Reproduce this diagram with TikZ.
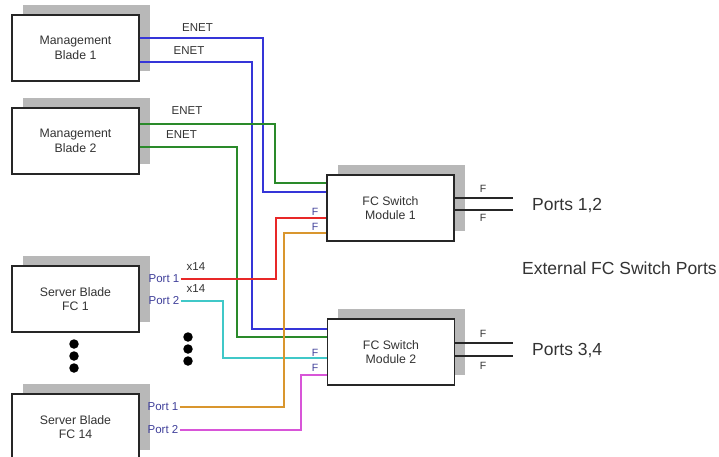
\documentclass[tikz,border=0pt]{standalone}
\usepackage{fontspec}
\setmainfont{Liberation Sans}
\usetikzlibrary{shadows}
\definecolor{cblue}{HTML}{3535D8}
\definecolor{cgreen}{HTML}{2A8A2A}
\definecolor{cred}{HTML}{E82828}
\definecolor{ccyan}{HTML}{40C8C8}
\definecolor{corange}{HTML}{D9962E}
\definecolor{cmag}{HTML}{D855D8}
\definecolor{cport}{HTML}{40409A}
\definecolor{ctext}{HTML}{333333}
\begin{document}
\begin{tikzpicture}[x=1pt,y=-1pt,
  blade/.style={draw=black!85, line width=1.4pt, fill=white, minimum width=127pt,
    minimum height=66pt, align=center, inner sep=0pt,
    font=\fontsize{12.3}{14.5}\selectfont, text=ctext,
    drop shadow={shadow xshift=10.5pt, shadow yshift=10pt, fill=black!28, opacity=1}},
  lbl/.style={font=\fontsize{11.5}{14}\selectfont, text=ctext, inner sep=1pt},
  portlbl/.style={font=\fontsize{11.5}{14}\selectfont, text=cport, inner sep=1pt},
  flbl/.style={font=\fontsize{10.5}{12}\selectfont, inner sep=0pt},
  biglbl/.style={font=\fontsize{17.5}{20}\selectfont, text=ctext, inner sep=0pt, anchor=west},
  wire/.style={line width=1.5pt},
  ext/.style={line width=1.3pt, draw=black!85},
  dot/.style={circle, fill=black, inner sep=0pt, minimum size=9.5pt}
]
\useasboundingbox (0,0) rectangle (719,456);

% boxes
\node[blade] (mb1) at (75.5,48) {Management\\Blade 1};
\node[blade] (mb2) at (75.5,141) {Management\\Blade 2};
\node[blade] (sb1) at (75.5,299) {Server Blade\\FC 1};
\node[blade] (sb14) at (75.5,427) {Server Blade\\FC 14};
\node[blade] (fc1) at (390.5,208) {FC Switch\\Module 1};
\node[blade] (fc2) at (391,352) {FC Switch\\Module 2};

% port labels
\node[portlbl] (p11) at (164,279) {Port 1};
\node[portlbl] (p12) at (164,301) {Port 2};
\node[portlbl] (p141) at (163,407) {Port 1};
\node[portlbl] (p142) at (163,430) {Port 2};

% ENET / x14 labels
\node[lbl] (e1) at (197.5,28) {ENET};
\node[lbl] (e2) at (189,51) {ENET};
\node[lbl] (e3) at (187,111) {ENET};
\node[lbl] (e4) at (181.5,135) {ENET};
\node[lbl] (x1) at (196,267) {x14};
\node[lbl] (x2) at (196,289) {x14};

% wires
\draw[wire, cgreen] (mb2.east |- 0,147) -- (237,147) |- (fc2.west |- 0,337);
\draw[wire, cblue] (mb1.east |- 0,62) -- (252,62) |- (fc2.west |- 0,329);
\draw[wire, cblue] (mb1.east |- 0,38) -- (263,38) |- (fc1.west |- 0,192);
\draw[wire, cgreen] (mb2.east |- 0,124) -- (275,124) |- (fc1.west |- 0,183);
\draw[wire, cred] (p11.east) -- (276,279) |- (fc1.west |- 0,218);
\draw[wire, ccyan] (p12.east) -- (223,301) |- (fc2.west |- 0,358);
\draw[wire, corange] (p141.east) -- (284,407) |- (fc1.west |- 0,233);
\draw[wire, cmag] (p142.east) -- (301,430) |- (fc2.west |- 0,375);

% left F labels
\node[flbl, text=cport] (fl1) at (315,212) {F};
\node[flbl, text=cport] (fl2) at (315,227) {F};
\node[flbl, text=cport] (fl3) at (315,353) {F};
\node[flbl, text=cport] (fl4) at (315,368) {F};

% external ports
\coordinate (o11) at (513,198);
\coordinate (o12) at (513,210);
\coordinate (o21) at (513,343);
\coordinate (o22) at (513,356);
\draw[ext] (fc1.east |- o11) -- (o11);
\draw[ext] (fc1.east |- o12) -- (o12);
\draw[ext] (fc2.east |- o21) -- (o21);
\draw[ext] (fc2.east |- o22) -- (o22);
\node[flbl, text=ctext] (fr1) at (483,189) {F};
\node[flbl, text=ctext] (fr2) at (483,218) {F};
\node[flbl, text=ctext] (fr3) at (483,334) {F};
\node[flbl, text=ctext] (fr4) at (483,366) {F};

\node[biglbl] (pt12) at (532,206) {Ports 1,2};
\node[biglbl] (pt34) at (532,350) {Ports 3,4};
\node[biglbl] (ext) at (522,268) {External FC Switch Ports};

% dots
\node[dot] (d1) at (74,344) {};
\node[dot] (d2) at (74,356) {};
\node[dot] (d3) at (74,368) {};
\node[dot] (d4) at (188,337) {};
\node[dot] (d5) at (188,349) {};
\node[dot] (d6) at (188,361) {};
\end{tikzpicture}
\end{document}
